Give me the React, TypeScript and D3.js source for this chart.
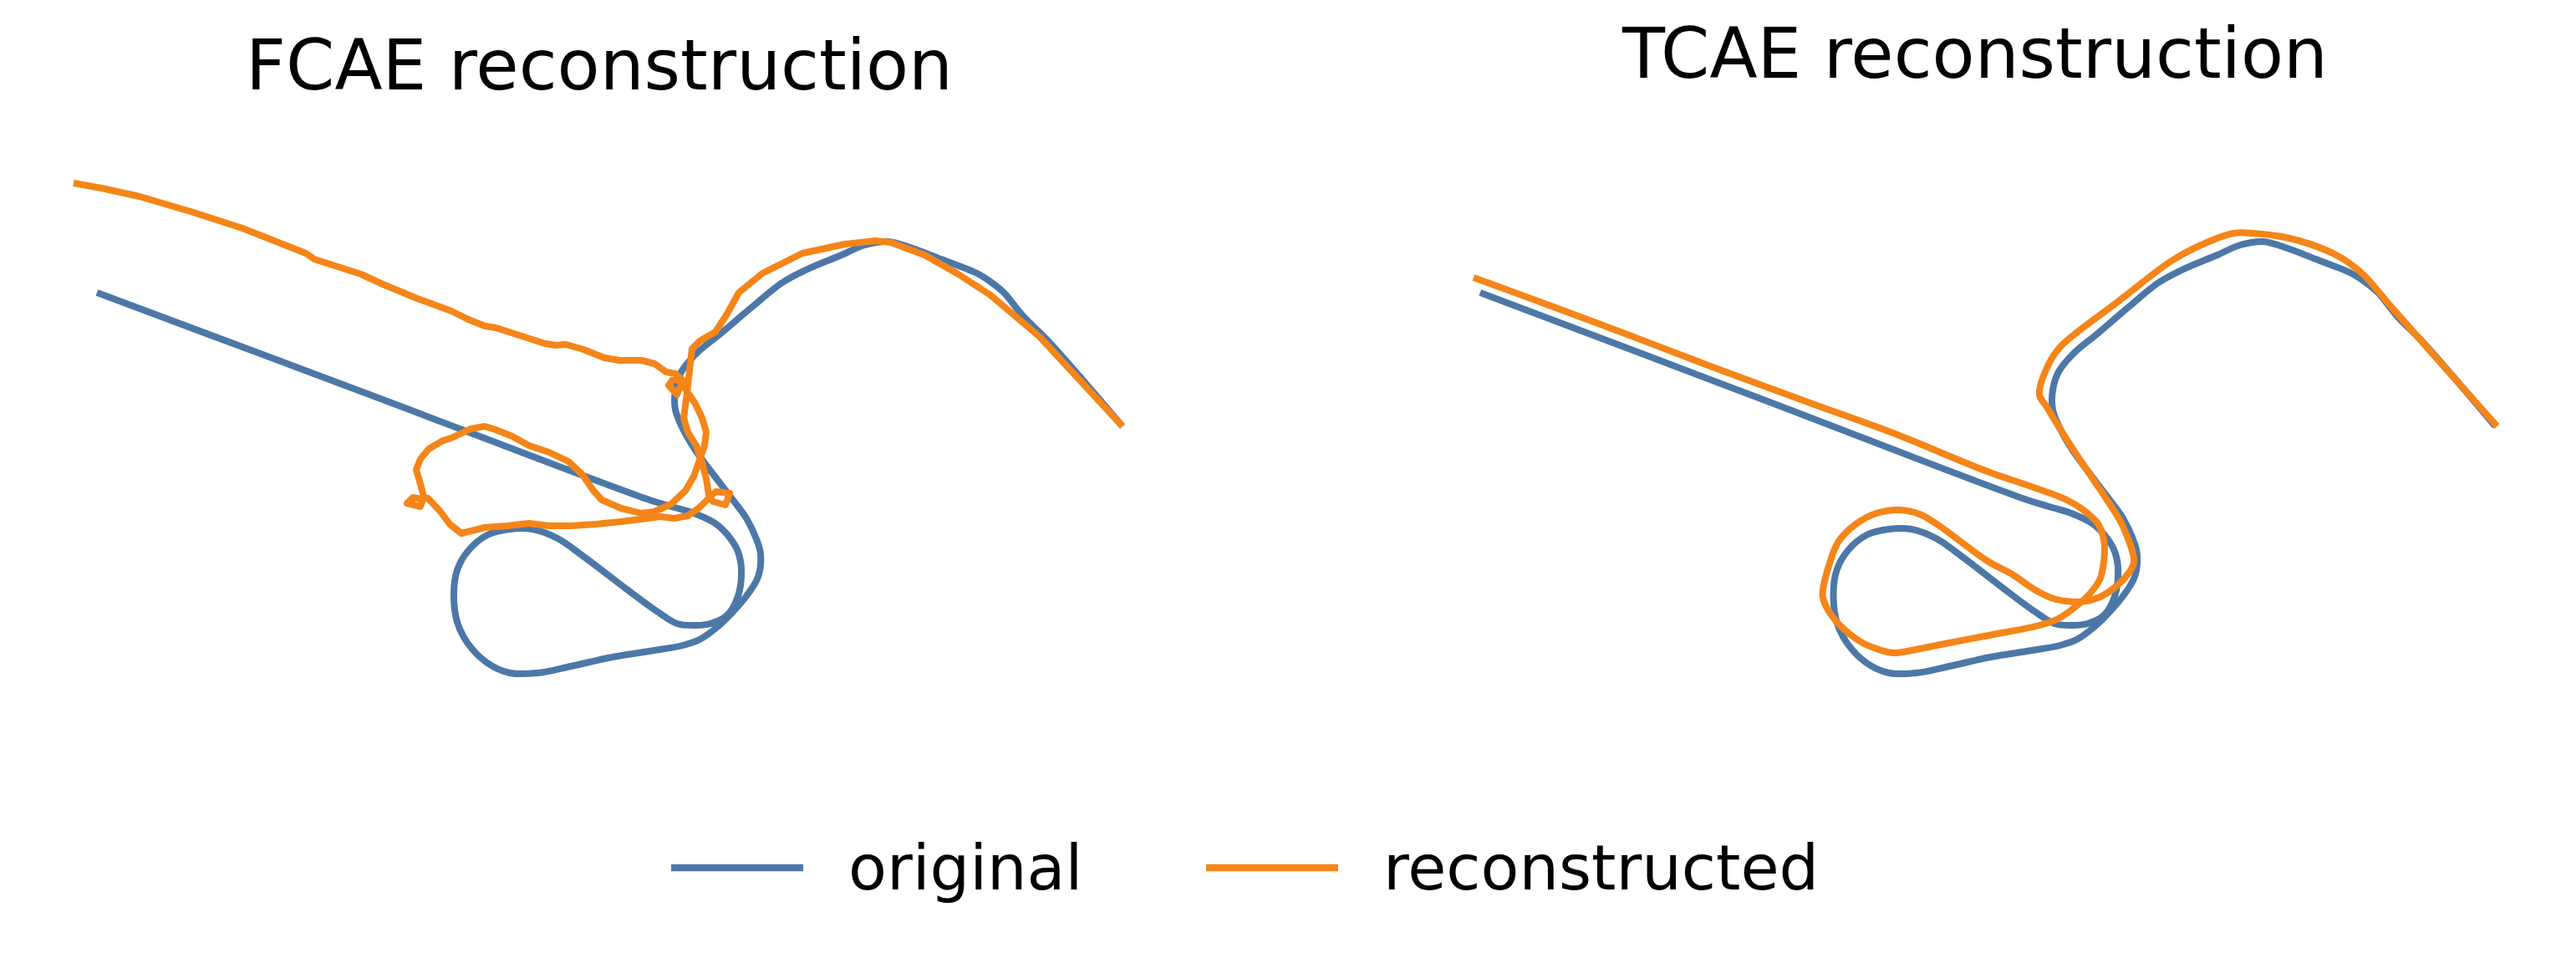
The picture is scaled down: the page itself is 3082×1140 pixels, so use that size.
import React from "react";
import * as d3 from "d3";

type Pt = [number, number];

// ground-truth trajectory (same in both panels)
const ORIGINAL: Pt[] = [
  [1.6, 55.0], [35.0, 42.5], [67.7, 30.2], [70.7, 29.3], [73.3, 28.5], [75.7, 27.3],
  [77.3, 25.7], [78.3, 24.0], [78.7, 21.8], [78.3, 18.7], [77.0, 16.4], [75.0, 15.4],
  [73.3, 15.2], [71.0, 15.4], [68.7, 16.8], [65.0, 19.5], [60.0, 23.3], [56.7, 25.6],
  [53.7, 26.7], [51.0, 26.7], [48.3, 26.0], [46.0, 24.1], [44.7, 21.8], [44.3, 19.1],
  [44.7, 15.6], [46.0, 13.0], [48.3, 10.7], [51.0, 9.5], [54.3, 9.5], [58.3, 10.3],
  [63.3, 11.4], [68.3, 12.2], [71.7, 12.8], [73.7, 13.5], [75.7, 14.9], [77.3, 16.4],
  [79.3, 18.7], [80.7, 21.0], [81.0, 23.7], [80.5, 25.5], [79.3, 28.0], [77.3, 30.7],
  [75.0, 33.7], [73.3, 36.0], [71.7, 38.7], [70.8, 41.0], [70.8, 43.3], [71.5, 45.5],
  [73.3, 47.7], [76.1, 50.0], [80.0, 53.3], [83.6, 56.2], [86.4, 57.7], [90.7, 59.5],
  [93.5, 60.7], [96.2, 61.1], [98.6, 60.5], [102.6, 59.0], [106.9, 57.3], [108.5, 56.3],
  [110.1, 55.0], [112.4, 52.2], [115.6, 49.0], [124.3, 39.0],
];

// FCAE reconstruction (noisy)
const FCAE_RECON: Pt[] = [
  [-1.2, 68.1], [2.1, 67.5], [6.7, 66.5], [12.8, 64.7], [19.0, 62.7], [26.6, 59.7],
  [27.6, 59.0], [33.2, 57.2], [35.8, 56.0], [39.9, 54.3], [44.0, 52.8], [46.0, 51.8],
  [48.0, 51.0], [49.3, 50.8], [52.1, 49.9], [55.2, 48.9], [56.5, 48.7], [57.7, 48.8],
  [59.8, 48.2], [62.3, 47.2], [64.1, 46.9], [66.7, 46.9], [68.3, 46.5], [69.7, 45.5],
  [70.8, 45.3], [71.7, 44.5], [71.0, 42.8], [70.0, 43.9], [70.7, 44.9], [71.8, 43.8],
  [73.2, 41.7], [74.0, 40.0], [74.5, 38.3], [74.3, 36.7], [73.7, 35.0], [73.0, 33.0],
  [72.0, 31.3], [70.3, 29.7], [68.3, 28.8], [66.7, 28.6], [64.3, 29.2], [62.0, 30.2],
  [61.0, 31.3], [59.7, 33.2], [58.0, 34.8], [55.7, 35.9], [53.3, 36.7], [51.3, 37.8],
  [49.3, 38.6], [48.0, 39.0], [46.3, 38.7], [44.0, 37.6], [43.0, 37.3], [41.3, 36.3],
  [40.3, 35.1], [39.8, 33.8], [40.3, 32.1], [40.7, 30.6], [40.3, 29.4], [38.7, 29.8],
  [39.4, 30.5], [40.5, 30.3], [41.2, 30.4], [42.7, 28.8], [43.8, 27.3], [45.2, 26.2],
  [48.0, 26.9], [50.7, 27.1], [53.3, 27.4], [55.7, 27.1], [58.3, 27.1], [61.3, 27.3],
  [64.3, 27.6], [66.7, 27.9], [69.0, 28.2], [70.7, 28.0], [72.3, 28.3], [73.7, 29.3],
  [74.7, 30.3], [75.0, 30.7], [75.7, 31.2], [77.3, 31.0], [76.8, 29.6], [75.3, 30.0],
  [74.8, 30.8], [74.5, 32.7], [74.0, 34.7], [73.3, 36.7], [72.3, 38.3], [71.8, 40.0],
  [72.2, 43.0], [72.5, 45.7], [72.8, 48.3], [73.7, 49.2], [75.6, 50.3], [76.9, 52.3],
  [78.4, 55.0], [81.2, 57.3], [86.0, 59.7], [91.1, 60.8], [94.7, 61.2], [96.6, 61.0],
  [100.6, 59.5], [104.5, 57.3], [108.5, 54.7], [114.4, 49.7], [124.3, 39.0],
];

// TCAE reconstruction (close to the original)
const TCAE_RECON: Pt[] = [
  [0.8, 56.8], [8.8, 53.9], [19.1, 50.1], [29.4, 46.2], [42.3, 41.5], [51.5, 38.2],
  [62.9, 33.6], [68.2, 31.8], [72.5, 30.2], [74.5, 29.0], [76.3, 27.3], [77.0, 25.3],
  [77.0, 23.0], [76.5, 20.7], [75.3, 19.0], [73.9, 17.7], [71.5, 16.0], [69.2, 15.2],
  [63.1, 14.0], [57.8, 13.0], [52.6, 12.0], [51.5, 11.9], [48.0, 13.0], [45.4, 14.9],
  [43.8, 16.8], [43.0, 18.7], [43.8, 22.5], [44.9, 25.2], [47.0, 27.3], [49.5, 28.6],
  [52.3, 29.0], [54.7, 28.5], [56.8, 27.3], [62.9, 22.9], [65.9, 21.3], [68.9, 19.3],
  [71.2, 18.3], [73.9, 18.0], [76.3, 18.5], [78.0, 19.5], [79.6, 21.0], [80.6, 22.7],
  [79.3, 27.0], [77.3, 30.3], [75.8, 32.5], [72.7, 37.1], [70.1, 41.3], [69.2, 42.8],
  [70.5, 46.8], [71.9, 48.7], [73.8, 50.3], [78.8, 54.0], [85.0, 58.7], [88.3, 60.5],
  [92.7, 62.1], [94.9, 62.1], [99.4, 61.5], [104.0, 60.0], [106.4, 58.7], [108.5, 57.0],
  [111.7, 53.3], [116.7, 47.7], [124.5, 39.0],
];

const PANEL_TITLES = ["FCAE reconstruction", "TCAE reconstruction"];
const SERIES_LABELS = ["original", "reconstructed"];

const BLUE = "#4c78a8";
const ORANGE = "#f58518";
const FONT = "'DejaVu Sans', sans-serif";

const W = 3082;
const H = 1140;

const panels = [
  {
    title: PANEL_TITLES[0],
    recon: FCAE_RECON,
    reconCurve: d3.curveLinear,
    xRange: [100, 1100],
    titleX: 717,
    titleY: 107,
  },
  {
    title: PANEL_TITLES[1],
    recon: TCAE_RECON,
    reconCurve: d3.curveCatmullRom.alpha(0.5),
    xRange: [1755, 2745],
    titleX: 2363,
    titleY: 93,
  },
];

export default function App() {
  const y = d3.scaleLinear().domain([0, 60]).range([900, 300]);

  const legendItems = [
    { label: SERIES_LABELS[0], color: BLUE, x0: 803 },
    { label: SERIES_LABELS[1], color: ORANGE, x0: 1443 },
  ];

  return (
    <svg
      width={W}
      height={H}
      style={{ position: "absolute", left: 0, top: 0, background: "#fff" }}
    >
      {panels.map((p, i) => {
        const x = d3.scaleLinear().domain([0, 100]).range(p.xRange);
        const smooth = d3
          .line<Pt>()
          .x((d) => x(d[0]))
          .y((d) => y(d[1]))
          .curve(d3.curveCatmullRom.alpha(0.5));
        const recon = d3
          .line<Pt>()
          .x((d) => x(d[0]))
          .y((d) => y(d[1]))
          .curve(p.reconCurve);
        return (
          <g key={i}>
            <path
              d={smooth(ORIGINAL) || ""}
              fill="none"
              stroke={BLUE}
              strokeWidth={8}
              strokeLinejoin="round"
            />
            <path
              d={recon(p.recon) || ""}
              fill="none"
              stroke={ORANGE}
              strokeWidth={8}
              strokeLinejoin="round"
            />
            <text
              x={p.titleX}
              y={p.titleY}
              textAnchor="middle"
              fontFamily={FONT}
              fontSize={83.5}
              fill="#000"
            >
              {p.title}
            </text>
          </g>
        );
      })}

      {/* legend */}
      {legendItems.map((it) => (
        <g key={it.label}>
          <line
            x1={it.x0}
            x2={it.x0 + 158}
            y1={1038}
            y2={1038}
            stroke={it.color}
            strokeWidth={8.5}
          />
          <text
            x={it.x0 + 212}
            y={1064}
            fontFamily={FONT}
            fontSize={75}
            fill="#000"
          >
            {it.label}
          </text>
        </g>
      ))}
    </svg>
  );
}
